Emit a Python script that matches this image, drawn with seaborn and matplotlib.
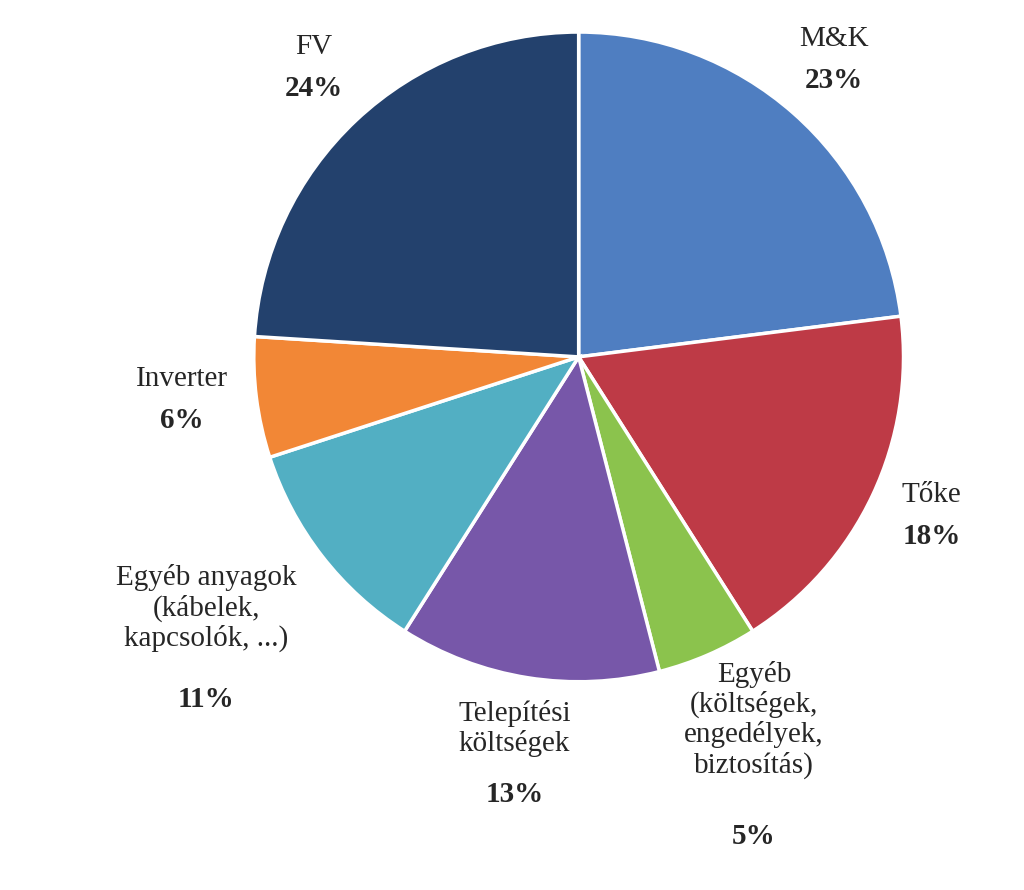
import numpy as np
import matplotlib.pyplot as plt
import seaborn as sns

names = ["M&K", "Tőke", "Egyéb\n(költségek,\nengedélyek,\nbiztosítás)", "Telepítési\nköltségek",
         "Egyéb anyagok\n(kábelek,\nkapcsolók, ...)", "Inverter", "FV"]
shares = [23, 18, 5, 13, 11, 6, 24]
colors = ["#4F7EC1", "#BE3A46", "#8BC34D", "#7757A9", "#52AFC3", "#F28736", "#23416D"]
label_dist = [1.19, 1.2, 1.36, 1.26, 1.45, 1.23, 1.19]

sns.set_theme(style="white")
plt.rcParams["font.family"] = "Liberation Serif"

fig = plt.figure(figsize=(10.24, 8.9), dpi=100)
ax = fig.add_axes([0.565 - 0.3174, 0.599 - 0.365, 0.635, 0.730])
wedges, _ = ax.pie(shares, colors=colors, startangle=90, counterclock=False, radius=1,
                   wedgeprops=dict(edgecolor="white", linewidth=2.5))
ax.set_xlim(-1, 1)
ax.set_ylim(-1, 1)
ax.set_aspect("equal")

for w, name, pct, d in zip(wedges, names, shares, label_dist):
    ang = np.deg2rad((w.theta1 + w.theta2) / 2)
    x, y = d * np.cos(ang), d * np.sin(ang)
    n_lines = name.count("\n") + 1
    lh = 0.125
    top = y + (n_lines + 1) * lh / 2
    ax.text(x, top, name, ha="center", va="top", fontsize=21, linespacing=1.15)
    ax.text(x, top - n_lines * lh, f"{pct}%", ha="center", va="top", fontsize=21, fontweight="bold")

fig.savefig("out.png", dpi=100, facecolor="white")
